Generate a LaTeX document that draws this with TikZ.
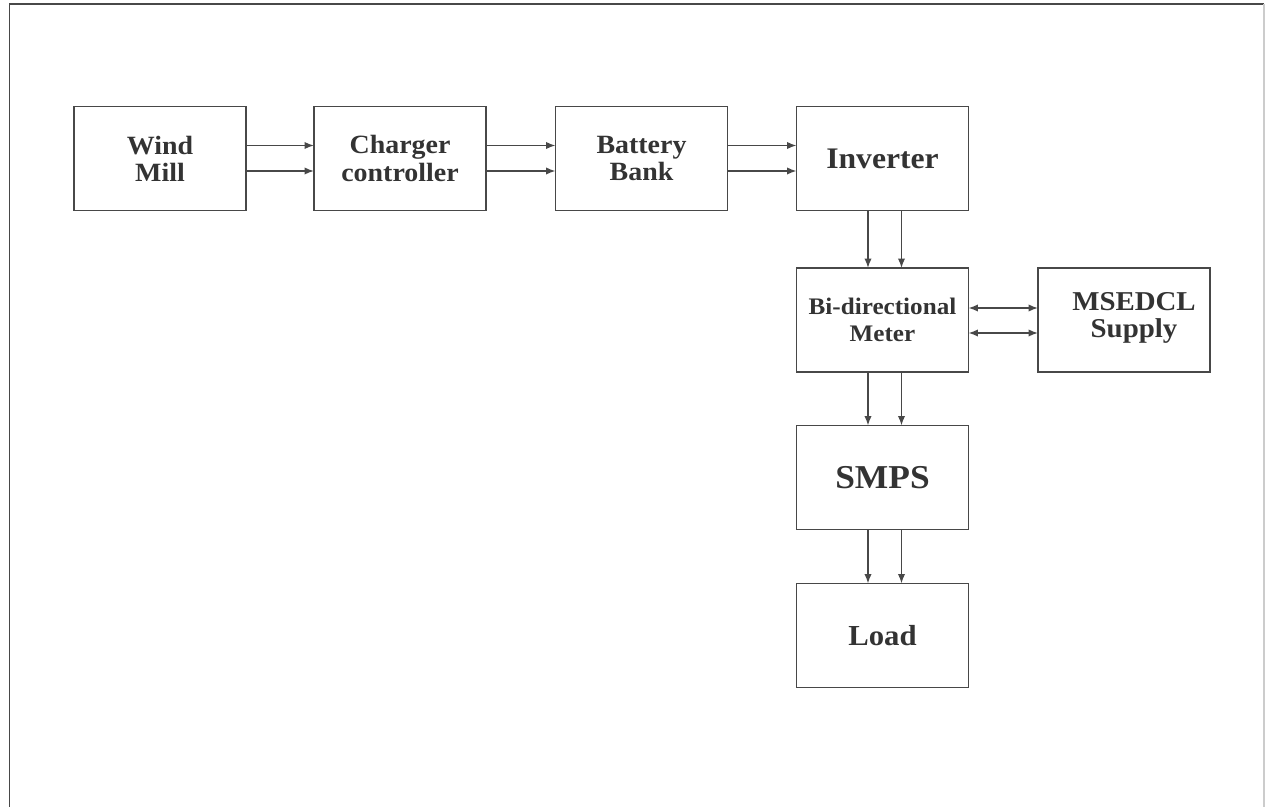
\documentclass[tikz,border=0pt]{standalone}
\usepackage{fontspec}
\setmainfont{Liberation Serif}[FakeStretch=1.06]
\usetikzlibrary{arrows.meta,calc}
\definecolor{linecol}{HTML}{484848}
\definecolor{textcol}{HTML}{333333}
\tikzset{
  blk/.style={draw=linecol, line width=1.1pt, minimum width=3.44cm, minimum height=2.08cm,
    inner sep=0pt, outer sep=0pt, align=center, text=textcol, font=\bfseries},
  arr/.style={draw=linecol, line width=0.9pt, -{Latex[length=5.4pt,width=4.2pt]}},
  darr/.style={draw=linecol, line width=0.9pt, {Latex[length=5.4pt,width=4.2pt]}-{Latex[length=5.4pt,width=4.2pt]}},
}
\begin{document}
\begin{tikzpicture}[x=0.02cm,y=-0.02cm]
\useasboundingbox (0,0) rectangle (1265,807);
\draw[linecol, line width=1pt] (9.5,807) -- (9.5,4) -- (1264,4);
\draw[gray!40, line width=0.6pt] (1264,4) -- (1264,807);

\node[blk, font=\bfseries\fontsize{15}{15.5}\selectfont] (wind) at (160,158.5) {Wind\\Mill};
\node[blk, font=\bfseries\fontsize{15}{15.5}\selectfont] (charger) at (400,158.5) {Charger\\controller};
\node[blk, font=\bfseries\fontsize{15}{15.5}\selectfont] (battery) at (641.5,158.5) {Battery\\Bank};
\node[blk, font=\bfseries\fontsize{17}{18}\selectfont] (inverter) at (882.5,158.5) {Inverter};
\node[blk, font=\bfseries\fontsize{13.5}{15}\selectfont] (meter) at (882.5,320) {Bi-directional\\Meter};
\node[blk] (msedcl) at (1124,320) {};
\node[text=textcol, align=center, inner sep=0pt, font=\bfseries\fontsize{15.5}{15.5}\selectfont] (msedcltxt) at (1134,318) {MSEDCL\\Supply};
\node[blk, font=\bfseries\fontsize{19}{20}\selectfont] (smps) at (882.5,477.5) {SMPS};
\node[blk, font=\bfseries\fontsize{16.5}{17}\selectfont] (load) at (882.5,635.5) {Load};

\foreach \a/\b in {wind/charger, charger/battery, battery/inverter}{
  \draw[arr] ([yshift=0.26cm]\a.east) -- ([yshift=0.26cm]\b.west);
  \draw[arr] ([yshift=-0.25cm]\a.east) -- ([yshift=-0.25cm]\b.west);
}
\foreach \a/\b in {inverter/meter, meter/smps, smps/load}{
  \draw[arr] ([xshift=-0.29cm]\a.south) -- ([xshift=-0.29cm]\b.north);
  \draw[arr] ([xshift=0.38cm]\a.south) -- ([xshift=0.38cm]\b.north);
}
\draw[darr] ([yshift=0.24cm]meter.east) -- ([yshift=0.24cm]msedcl.west);
\draw[darr] ([yshift=-0.26cm]meter.east) -- ([yshift=-0.26cm]msedcl.west);
\end{tikzpicture}
\end{document}
